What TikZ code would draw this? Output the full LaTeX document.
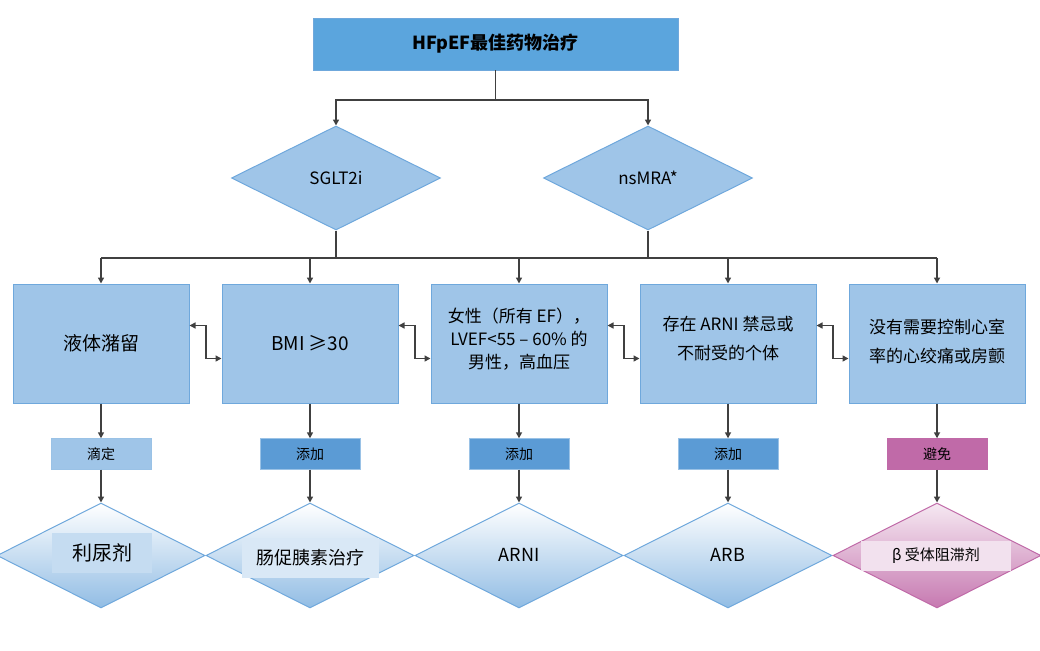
\documentclass[tikz,border=0pt]{standalone}
\usepackage{fontspec}
\setmainfont{Noto Sans CJK SC}
\usetikzlibrary{shapes.geometric,arrows.meta}
\definecolor{topb}{HTML}{5BA5DD}
\definecolor{lb}{HTML}{9FC5E8}
\definecolor{bd}{HTML}{6FA8DC}
\definecolor{mb}{HTML}{5B9BD5}
\definecolor{pk}{HTML}{C06AA8}
\definecolor{ln}{HTML}{404040}
\begin{document}
\begin{tikzpicture}[x=1pt,y=-1pt,
  box/.style={draw=bd,fill=lb,minimum width=176pt,minimum height=119pt,align=center,line width=1pt},
  dia/.style={diamond,draw=bd,fill=lb,minimum width=209pt,minimum height=104pt,aspect=2,inner sep=0,line width=1pt,font=\fontsize{17}{20}\selectfont},
  bdia/.style={diamond,draw=bd,top color=white,bottom color=lb!80!mb,minimum width=208pt,minimum height=105pt,inner sep=0,line width=1pt},
  tag/.style={draw=bd!70,minimum width=100pt,minimum height=31pt,inner sep=0,font=\fontsize{14}{16}\selectfont},
  ar/.style={draw=ln,line width=1.5pt,-{Triangle[length=6pt,width=6pt]}},
  dar/.style={draw=ln,line width=1.5pt,{Triangle[length=6pt,width=6pt]}-{Triangle[length=6pt,width=6pt]}},
  ln/.style={draw=ln,line width=1.5pt}]
\useasboundingbox (0,0) rectangle (1040,650);
\node[draw=bd,fill=topb,minimum width=365pt,minimum height=52pt,font=\bfseries\fontsize{18}{20}\selectfont] (top) at (495.5,44) {HFpEF最佳药物治疗};
\node[dia] (d1) at (336,178) {SGLT2i};
\node[dia] (d2) at (648,178) {nsMRA*};
\coordinate (j0) at (495.5,100);
\draw[ln] (top.south) -- (j0);
\draw[ar] (j0) -| (d1.north);
\draw[ar] (j0) -| (d2.north);
\foreach \i/\x/\t/\c in {1/101/滴定/lb,2/310/添加/mb,3/519/添加/mb,4/728/添加/mb}{
  \node[box] (b\i) at (\x,343.5) {};
  \node[tag,fill=\c] (t\i) at (\x,454) {\t};
  \node[bdia] (e\i) at (\x,555.5) {};
  \draw[ar] (b\i.south) -- (t\i.north);
  \draw[ar] (t\i.south) -- (e\i.north);
}
\node[box] (b5) at (937,343.5) {};
\node[tag,fill=pk,draw=pk] (t5) at (937,454) {避免};
\node[bdia,draw=pk,top color=pk!15,bottom color=pk!90] (e5) at (937,555.5) {};
\draw[ar] (b5.south) -- (t5.north);
\draw[ar] (t5.south) -- (e5.north);
\node[font=\fontsize{19}{22}\selectfont] at (b1) {液体潴留};
\node[font=\fontsize{19}{22}\selectfont] at (b2) {BMI ≥30};
\node[align=center,font=\fontsize{17}{23}\selectfont] at (519,339) {女性（所有 EF），\\LVEF<55 – 60\% 的\\男性，高血压};
\node[align=center,font=\fontsize{17}{29}\selectfont] at (728,339) {存在 ARNI 禁忌或\\不耐受的个体};
\node[align=center,font=\fontsize{17}{29}\selectfont] at (937,341) {没有需要控制心室\\率的心绞痛或房颤};
\node[fill=lb!60,minimum width=100pt,minimum height=40pt,font=\fontsize{20}{22}\selectfont] at (102,553) {利尿剂};
\node[fill=white!60!lb,minimum width=137pt,minimum height=40pt,font=\fontsize{18}{20}\selectfont] at (310,558) {肠促胰素治疗};
\node[font=\fontsize{18}{20}\selectfont] at (519,555) {ARNI};
\node[font=\fontsize{18}{20}\selectfont] at (728,555) {ARB};
\node[fill=pk!20,minimum width=150pt,minimum height=30pt,font=\fontsize{15}{17}\selectfont] at (936,556) {β 受体阻滞剂};
\draw[ln] (d1.south) -- (336,258);
\draw[ln] (d2.south) -- (648,258);
\draw[ln] (101,258) -- (937,258);
\foreach \i/\x in {1/101,2/310,3/519,4/728,5/937}{\draw[ar] (\x,258) -- (b\i.north);}
\foreach \a/\b in {1/2,2/3,3/4,4/5}{
  \draw[dar] ([yshift=18pt]b\a.east) -- ++(16.5,0) |- ([yshift=-15pt]b\b.west);
}
\end{tikzpicture}
\end{document}
